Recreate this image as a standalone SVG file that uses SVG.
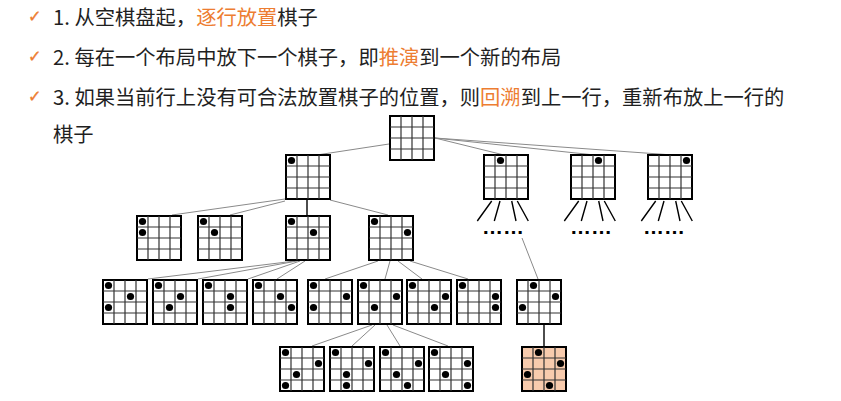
<svg xmlns="http://www.w3.org/2000/svg" width="841" height="401" viewBox="0 0 841 401">
<style>
.t{font-family:"Noto Sans CJK SC","Liberation Sans",sans-serif;font-size:20.3px;fill:#1f1f1f}
.hl{fill:#ED7D31}
.ck{font-family:"DejaVu Sans",sans-serif;font-size:16px;fill:#ED7D31;stroke:#ED7D31;stroke-width:0.4}
.dots{font-family:"Liberation Sans",sans-serif;font-size:21px;font-weight:bold;fill:#000}
.out{stroke:#000;stroke-width:2}
.in{fill:none;stroke:#333;stroke-width:1.2}
.board{fill:#fff}
.hot{fill:#F8CBAD}
.q{fill:#000}
.c{stroke:#8a8a8a;stroke-width:1;fill:none}
.k{stroke:#000;stroke-width:1.4;fill:none}
</style>
<defs>
<symbol id="brd" overflow="visible">
<rect class="out" x="1" y="1" width="44" height="44"/>
<path class="in" d="M12 1V45M23 1V45M34 1V45M1 12H45M1 23H45M1 34H45"/>
</symbol>
</defs>
<rect width="841" height="401" fill="#fff"/>

<g id="text">
<text class="ck" x="28" y="22">✓</text>
<text class="ck" x="28" y="62">✓</text>
<text class="ck" x="28" y="102">✓</text>
<text class="t" x="53" y="25">1. 从空棋盘起，<tspan class="hl">逐行放置</tspan>棋子</text>
<text class="t" x="53" y="65">2. 每在一个布局中放下一个棋子，即<tspan class="hl">推演</tspan>到一个新的布局</text>
<text class="t" x="53" y="105">3. 如果当前行上没有可合法放置棋子的位置，则<tspan class="hl">回溯</tspan>到上一行，重新布放上一行的</text>
<text class="t" x="53" y="142">棋子</text>
</g>

<g id="connectors">
<path class="c" d="M389 144L320 154.5M435 138L502 154.5M435 138L590 154.5M435 138L666 154.5"/>
<path class="c" d="M285 199L172 215M285 201L230 215M330 200L388 215"/>
<path class="k" d="M307 200V215"/>
<path class="c" d="M295 261L148 279M297 261L198 279M300 261L248 279M305 261L277 279"/>
<path class="c" d="M378 261L325 279M390 261L385 279M398 261L422 279M410 261L468 279"/>
<path class="c" d="M522 238L538 279"/>
<path class="c" d="M372 325L312 346M375 325L352 346M387 325L400 346M393 325L448 346"/>
<path class="k" d="M544 325V346"/>
<path class="k" d="M491.7 201L477.3 221M500 201L494.3 221M511.7 201L516 221M517.3 201L528.3 221"/>
<path class="k" d="M578.7 201L564.3 221M587 201L581.3 221M598.7 201L603 221M604.3 201L615.3 221"/>
<path class="k" d="M655.7 201L641.3 221M664 201L658.3 221M675.7 201L680 221M681.3 201L692.3 221"/>
<text class="dots" x="482" y="234">……</text>
<text class="dots" x="570" y="234">……</text>
<text class="dots" x="643" y="234">……</text>
</g>

<g id="root" transform="translate(389,115)"><use href="#brd" class="board"/></g>

<g id="n1a" transform="translate(285,154)"><use href="#brd" class="board"/><circle class="q" cx="6.5" cy="6.5" r="3.6"/></g>
<g id="n1b" transform="translate(483,154)"><use href="#brd" class="board"/><circle class="q" cx="17.5" cy="6.5" r="3.6"/></g>
<g id="n1c" transform="translate(570,154)"><use href="#brd" class="board"/><circle class="q" cx="28.5" cy="6.5" r="3.6"/></g>
<g id="n1d" transform="translate(647,154)"><use href="#brd" class="board"/><circle class="q" cx="39.5" cy="6.5" r="3.6"/></g>

<g id="n2a" transform="translate(136,215)"><use href="#brd" class="board"/><circle class="q" cx="6.5" cy="6.5" r="3.6"/><circle class="q" cx="6.5" cy="17.5" r="3.6"/></g>
<g id="n2b" transform="translate(197,215)"><use href="#brd" class="board"/><circle class="q" cx="6.5" cy="6.5" r="3.6"/><circle class="q" cx="17.5" cy="17.5" r="3.6"/></g>
<g id="n2c" transform="translate(285,215)"><use href="#brd" class="board"/><circle class="q" cx="6.5" cy="6.5" r="3.6"/><circle class="q" cx="28.5" cy="17.5" r="3.6"/></g>
<g id="n2d" transform="translate(368,215)"><use href="#brd" class="board"/><circle class="q" cx="6.5" cy="6.5" r="3.6"/><circle class="q" cx="39.5" cy="17.5" r="3.6"/></g>

<g id="n3a" transform="translate(102,279)"><use href="#brd" class="board"/><circle class="q" cx="6.5" cy="6.5" r="3.6"/><circle class="q" cx="28.5" cy="17.5" r="3.6"/><circle class="q" cx="6.5" cy="28.5" r="3.6"/></g>
<g id="n3b" transform="translate(152,279)"><use href="#brd" class="board"/><circle class="q" cx="6.5" cy="6.5" r="3.6"/><circle class="q" cx="28.5" cy="17.5" r="3.6"/><circle class="q" cx="17.5" cy="28.5" r="3.6"/></g>
<g id="n3c" transform="translate(202,279)"><use href="#brd" class="board"/><circle class="q" cx="6.5" cy="6.5" r="3.6"/><circle class="q" cx="28.5" cy="17.5" r="3.6"/><circle class="q" cx="28.5" cy="28.5" r="3.6"/></g>
<g id="n3d" transform="translate(252,279)"><use href="#brd" class="board"/><circle class="q" cx="6.5" cy="6.5" r="3.6"/><circle class="q" cx="28.5" cy="17.5" r="3.6"/><circle class="q" cx="39.5" cy="28.5" r="3.6"/></g>
<g id="n3e" transform="translate(307,279)"><use href="#brd" class="board"/><circle class="q" cx="6.5" cy="6.5" r="3.6"/><circle class="q" cx="39.5" cy="17.5" r="3.6"/><circle class="q" cx="6.5" cy="28.5" r="3.6"/></g>
<g id="n3f" transform="translate(357,279)"><use href="#brd" class="board"/><circle class="q" cx="6.5" cy="6.5" r="3.6"/><circle class="q" cx="39.5" cy="17.5" r="3.6"/><circle class="q" cx="17.5" cy="28.5" r="3.6"/></g>
<g id="n3g" transform="translate(406,279)"><use href="#brd" class="board"/><circle class="q" cx="6.5" cy="6.5" r="3.6"/><circle class="q" cx="39.5" cy="17.5" r="3.6"/><circle class="q" cx="28.5" cy="28.5" r="3.6"/></g>
<g id="n3h" transform="translate(456,279)"><use href="#brd" class="board"/><circle class="q" cx="6.5" cy="6.5" r="3.6"/><circle class="q" cx="39.5" cy="17.5" r="3.6"/><circle class="q" cx="39.5" cy="28.5" r="3.6"/></g>
<g id="n3i" transform="translate(516,279)"><use href="#brd" class="board"/><circle class="q" cx="17.5" cy="6.5" r="3.6"/><circle class="q" cx="39.5" cy="17.5" r="3.6"/><circle class="q" cx="6.5" cy="28.5" r="3.6"/></g>

<g id="n4a" transform="translate(279,346)"><use href="#brd" class="board"/><circle class="q" cx="6.5" cy="6.5" r="3.6"/><circle class="q" cx="39.5" cy="17.5" r="3.6"/><circle class="q" cx="17.5" cy="28.5" r="3.6"/><circle class="q" cx="6.5" cy="39.5" r="3.6"/></g>
<g id="n4b" transform="translate(329,346)"><use href="#brd" class="board"/><circle class="q" cx="6.5" cy="6.5" r="3.6"/><circle class="q" cx="39.5" cy="17.5" r="3.6"/><circle class="q" cx="17.5" cy="28.5" r="3.6"/><circle class="q" cx="17.5" cy="39.5" r="3.6"/></g>
<g id="n4c" transform="translate(379,346)"><use href="#brd" class="board"/><circle class="q" cx="6.5" cy="6.5" r="3.6"/><circle class="q" cx="39.5" cy="17.5" r="3.6"/><circle class="q" cx="17.5" cy="28.5" r="3.6"/><circle class="q" cx="28.5" cy="39.5" r="3.6"/></g>
<g id="n4d" transform="translate(428,346)"><use href="#brd" class="board"/><circle class="q" cx="6.5" cy="6.5" r="3.6"/><circle class="q" cx="39.5" cy="17.5" r="3.6"/><circle class="q" cx="17.5" cy="28.5" r="3.6"/><circle class="q" cx="39.5" cy="39.5" r="3.6"/></g>
<g id="n4e" transform="translate(521,346)"><use href="#brd" class="hot"/><circle class="q" cx="17.5" cy="6.5" r="3.6"/><circle class="q" cx="39.5" cy="17.5" r="3.6"/><circle class="q" cx="6.5" cy="28.5" r="3.6"/><circle class="q" cx="28.5" cy="39.5" r="3.6"/></g>
</svg>
